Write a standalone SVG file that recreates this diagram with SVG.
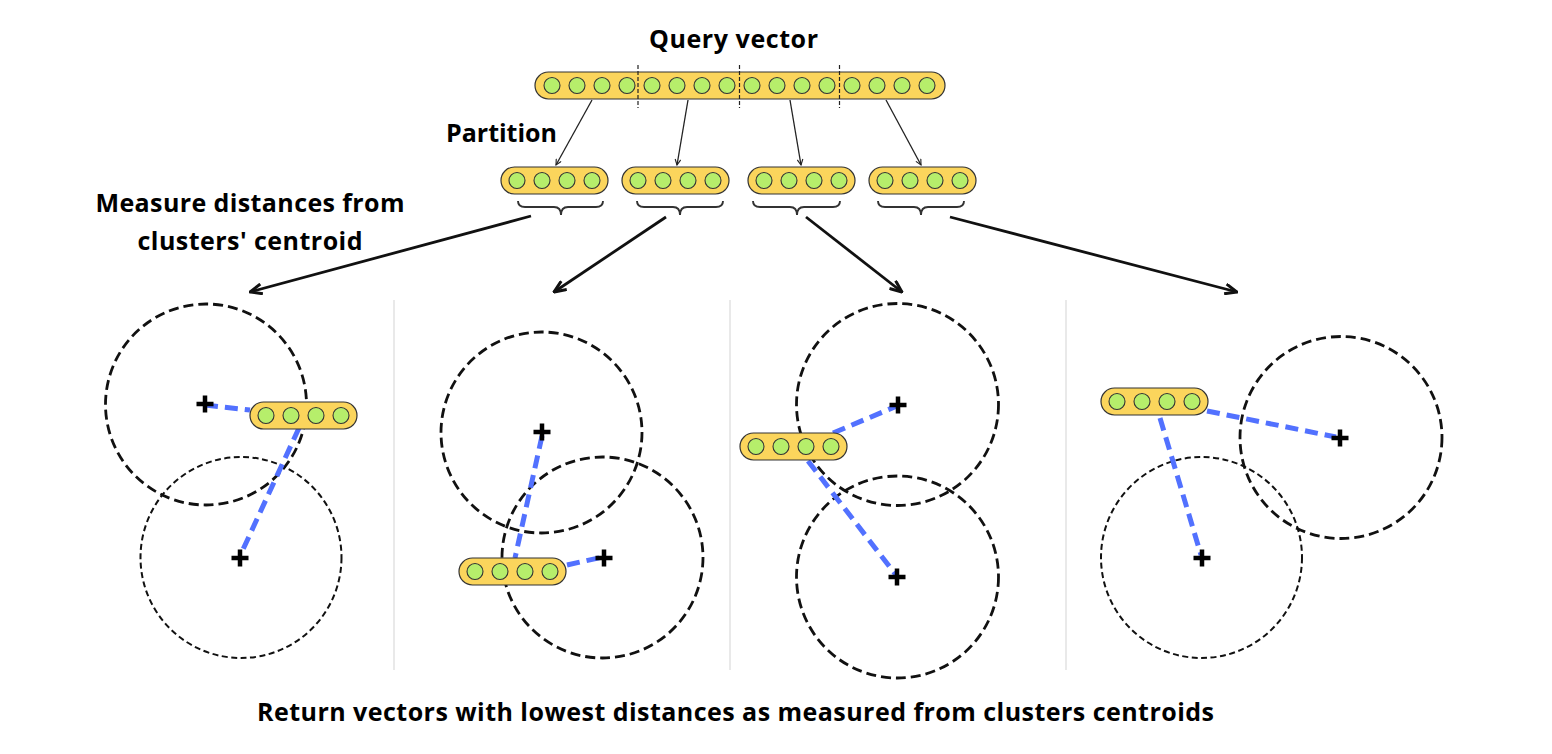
<svg xmlns="http://www.w3.org/2000/svg" width="1552" height="754" viewBox="0 0 1552 754">
<style>
.t{font-family:"Open Sans","Liberation Sans",sans-serif;font-weight:700;fill:#000;font-size:25px}
.bar{fill:#fbd55c;stroke:#333;stroke-width:1.2}
.dot{fill:#b6ee6b;stroke:#333;stroke-width:1.1}
.sep{stroke:#222;stroke-width:1.2;stroke-dasharray:4 2}
.pa{stroke:#222;stroke-width:1.3;fill:none}
.big{stroke:#111;stroke-width:2.8;fill:none}
.br{stroke:#333;stroke-width:1.9;fill:none}
.cl{fill:none;stroke:#111;stroke-width:2.8;stroke-dasharray:10 5}
.cl2{fill:none;stroke:#111;stroke-width:2;stroke-dasharray:6 3.5}
.bl{stroke:#5271ff;stroke-width:5;stroke-dasharray:13 7;fill:none}
.pl{stroke:#000;stroke-width:4.5;fill:none}
.vs{stroke:#e2e2e2;stroke-width:1.5}
</style>
<defs>
<marker id="ah" viewBox="0 0 10 10" refX="9" refY="5" markerWidth="7" markerHeight="7" markerUnits="userSpaceOnUse" orient="auto">
<path d="M1,1 L9,5 L1,9" fill="none" stroke="#222" stroke-width="1.6"/>
</marker>
<marker id="ahb" viewBox="0 0 14 12" refX="13" refY="6" markerWidth="14" markerHeight="12" markerUnits="userSpaceOnUse" orient="auto">
<path d="M1,1 L13,6 L1,11" fill="none" stroke="#111" stroke-width="3"/>
</marker>
<g id="v4">
<rect class="bar" x="0" y="0" width="107" height="27" rx="13.5"/>
<circle class="dot" cx="16" cy="13.5" r="8"/>
<circle class="dot" cx="41" cy="13.5" r="8"/>
<circle class="dot" cx="66" cy="13.5" r="8"/>
<circle class="dot" cx="91" cy="13.5" r="8"/>
</g>
<path id="plus" class="pl" d="M-8.5,0 H8.5 M0,-8.5 V8.5"/>
</defs>

<!-- labels -->
<g id="labels">
<text class="t" x="733.5" y="48" text-anchor="middle" textLength="169">Query vector</text>
<text class="t" x="446" y="142" textLength="111">Partition</text>
<text class="t" x="250" y="212" text-anchor="middle" textLength="309">Measure distances from</text>
<text class="t" x="250" y="250" text-anchor="middle" textLength="225">clusters' centroid</text>
<text class="t" x="735.5" y="721" text-anchor="middle" textLength="957">Return vectors with lowest distances as measured from clusters centroids</text>
</g>

<!-- query vector -->
<g id="query">
<rect class="bar" x="535" y="72" width="410" height="27" rx="13.5"/>
<g>
<circle class="dot" cx="552" cy="85.5" r="8"/><circle class="dot" cx="577" cy="85.5" r="8"/><circle class="dot" cx="602" cy="85.5" r="8"/><circle class="dot" cx="627" cy="85.5" r="8"/>
<circle class="dot" cx="652" cy="85.5" r="8"/><circle class="dot" cx="677" cy="85.5" r="8"/><circle class="dot" cx="702" cy="85.5" r="8"/><circle class="dot" cx="727" cy="85.5" r="8"/>
<circle class="dot" cx="752" cy="85.5" r="8"/><circle class="dot" cx="777" cy="85.5" r="8"/><circle class="dot" cx="802" cy="85.5" r="8"/><circle class="dot" cx="827" cy="85.5" r="8"/>
<circle class="dot" cx="852" cy="85.5" r="8"/><circle class="dot" cx="877" cy="85.5" r="8"/><circle class="dot" cx="902" cy="85.5" r="8"/><circle class="dot" cx="927" cy="85.5" r="8"/>
</g>
<line class="sep" x1="638" y1="65" x2="638" y2="108"/>
<line class="sep" x1="739.5" y1="65" x2="739.5" y2="108"/>
<line class="sep" x1="839.5" y1="65" x2="839.5" y2="108"/>
</g>

<!-- sub vectors -->
<g id="sub1"><use href="#v4" x="501" y="167"/></g>
<g id="sub2"><use href="#v4" x="622" y="167"/></g>
<g id="sub3"><use href="#v4" x="748" y="167"/></g>
<g id="sub4"><use href="#v4" x="869" y="167"/></g>

<!-- braces -->
<g id="braces">
<path class="br" d="M518,201 Q518,207 525,207 L554,207 Q561,207 561,215 Q561,207 568,207 L596,207 Q603,207 603,201"/>
<path class="br" d="M637,201 Q637,207 644,207 L673,207 Q680,207 680,215 Q680,207 687,207 L716,207 Q723,207 723,201"/>
<path class="br" d="M753,201 Q753,207 760,207 L790,207 Q797,207 797,215 Q797,207 804,207 L833,207 Q840,207 840,201"/>
<path class="br" d="M878,201 Q878,207 885,207 L914,207 Q921,207 921,215 Q921,207 928,207 L957,207 Q964,207 964,201"/>
</g>

<!-- connectors -->
<g id="connectors">
<line class="pa" x1="592" y1="100" x2="556" y2="165" marker-end="url(#ah)"/>
<line class="pa" x1="688" y1="100" x2="677" y2="165" marker-end="url(#ah)"/>
<line class="pa" x1="790" y1="100" x2="801" y2="165" marker-end="url(#ah)"/>
<line class="pa" x1="886" y1="100" x2="921" y2="165" marker-end="url(#ah)"/>
<line class="big" x1="531" y1="216" x2="250" y2="292" marker-end="url(#ahb)"/>
<line class="big" x1="666" y1="217" x2="554" y2="292" marker-end="url(#ahb)"/>
<line class="big" x1="806" y1="217" x2="902" y2="292" marker-end="url(#ahb)"/>
<line class="big" x1="950" y1="217" x2="1237" y2="292" marker-end="url(#ahb)"/>
</g>

<!-- panel separators -->
<g id="separators">
<line class="vs" x1="394" y1="300" x2="394" y2="670"/>
<line class="vs" x1="730" y1="300" x2="730" y2="670"/>
<line class="vs" x1="1066" y1="300" x2="1066" y2="670"/>
</g>

<!-- panel 1 -->
<g id="panel1">
<circle class="cl" cx="206" cy="404.5" r="100.5"/>
<circle class="cl2" cx="241" cy="557.5" r="100.5"/>
<line class="bl" x1="205" y1="405" x2="250" y2="410"/>
<line class="bl" x1="299" y1="428" x2="240" y2="556"/>
<use href="#v4" x="250" y="402"/>
<use href="#plus" x="205" y="404"/>
<use href="#plus" x="240" y="558"/>
</g>

<!-- panel 2 -->
<g id="panel2">
<circle class="cl" cx="541.5" cy="432.5" r="100.5"/>
<circle class="cl" cx="602.5" cy="557.5" r="100.5"/>
<line class="bl" x1="542" y1="436" x2="515" y2="558"/>
<line class="bl" x1="567" y1="565" x2="603" y2="557"/>
<use href="#v4" x="459" y="558"/>
<use href="#plus" x="542" y="432"/>
<use href="#plus" x="604" y="558"/>
</g>

<!-- panel 3 -->
<g id="panel3">
<circle class="cl" cx="897.5" cy="404.5" r="101"/>
<circle class="cl" cx="897.5" cy="577" r="101"/>
<line class="bl" x1="833" y1="433" x2="897" y2="406"/>
<line class="bl" x1="808" y1="461" x2="896" y2="575"/>
<use href="#v4" x="740" y="433"/>
<use href="#plus" x="898" y="405"/>
<use href="#plus" x="897" y="577"/>
</g>

<!-- panel 4 -->
<g id="panel4">
<circle class="cl" cx="1341" cy="437.5" r="101"/>
<circle class="cl2" cx="1201.5" cy="557.5" r="100.5"/>
<line class="bl" x1="1207" y1="411" x2="1336" y2="437"/>
<line class="bl" x1="1160" y1="418" x2="1201" y2="555"/>
<use href="#v4" x="1101" y="388"/>
<use href="#plus" x="1340" y="438"/>
<use href="#plus" x="1202" y="558"/>
</g>
</svg>
